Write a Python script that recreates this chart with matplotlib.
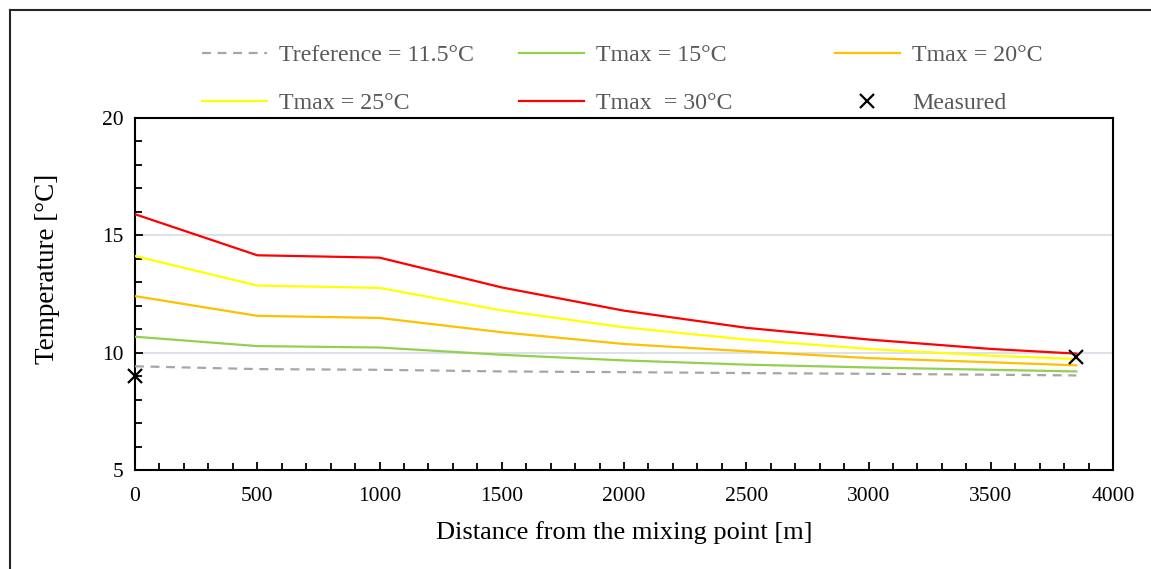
import matplotlib
matplotlib.use("Agg")
import matplotlib.pyplot as plt
from matplotlib.lines import Line2D

plt.rcParams["font.family"] = ["Liberation Serif", "DejaVu Serif"]

# distance from the mixing point [m]
distance = [0, 500, 1000, 1500, 2000, 2500, 3000, 3500, 3850]

t_reference = [9.42, 9.30, 9.27, 9.20, 9.17, 9.13, 9.10, 9.06, 9.03]
t_max_15 = [10.68, 10.28, 10.22, 9.91, 9.67, 9.49, 9.37, 9.27, 9.20]
t_max_20 = [12.41, 11.57, 11.48, 10.87, 10.37, 10.06, 9.77, 9.59, 9.46]
t_max_25 = [14.12, 12.86, 12.76, 11.80, 11.08, 10.56, 10.16, 9.87, 9.73]
t_max_30 = [15.90, 14.15, 14.05, 12.78, 11.79, 11.06, 10.56, 10.16, 9.96]

measured_distance = [0, 3850]
measured_temp = [9.0, 9.82]

series = [
    ("Treference = 11.5°C", t_reference, "#A6A6A6", "--"),
    ("Tmax = 15°C", t_max_15, "#92D050", "-"),
    ("Tmax = 20°C", t_max_20, "#FFC000", "-"),
    ("Tmax = 25°C", t_max_25, "#FFFF00", "-"),
    ("Tmax  = 30°C", t_max_30, "#FF0000", "-"),
]

fig = plt.figure(figsize=(11.51, 5.69), dpi=100)
ax = fig.add_axes([135 / 1151, 1 - 470 / 569, (1113 - 135) / 1151, (470 - 118) / 569])

handles = {}
for label, values, color, style in series:
    (h,) = ax.plot(distance, values, color=color, linestyle=style, linewidth=1.6,
                   dashes=(4, 3) if style == "--" else (None, None), zorder=3)
    handles[label] = h
(hm,) = ax.plot(measured_distance, measured_temp, linestyle="none", marker="x",
                markersize=10, markeredgewidth=1.6, color="black", clip_on=False, zorder=4)
handles["Measured"] = hm

ax.set_xlim(0, 4000)
ax.set_ylim(5, 20)
ax.set_xticks(range(0, 4001, 500))
ax.set_xticks(range(0, 4001, 100), minor=True)
ax.set_yticks([5, 10, 15, 20])
ax.set_yticks(range(5, 21), minor=True)
ax.tick_params(which="both", direction="in", labelsize=15.5, colors="black", width=1.3)
ax.tick_params(which="major", length=6)
ax.tick_params(which="minor", length=5)
ax.tick_params(axis="x", pad=12)
ax.tick_params(axis="y", pad=8)
for y in (10, 15):
    ax.axhline(y, color="#D6DCE5", linewidth=1.2, zorder=1)
for s in ax.spines.values():
    s.set_linewidth(1.5)

ax.set_xlabel("Distance from the mixing point [m]", fontsize=19, labelpad=11)
ax.set_ylabel("Temperature [°C]", fontsize=19.5)
ax.yaxis.set_label_coords(-0.077, 0.571)

# legend laid out as three separate columns
columns = [
    (["Treference = 11.5°C", "Tmax = 25°C"], 192),
    (["Tmax = 15°C", "Tmax  = 30°C"], 509),
    (["Tmax = 20°C", "Measured"], 825),
]
for labels, xpix in columns:
    leg = fig.legend([handles[l] for l in labels], labels, loc="upper left",
                     bbox_to_anchor=(xpix / 1151, 1 - 35 / 569), frameon=False,
                     fontsize=17.2, handlelength=2.75, handletextpad=0.5,
                     labelspacing=1.1, labelcolor="#595959", borderaxespad=0)

# outer frame of the figure (left and top edges visible)
fig.add_artist(Line2D([10 / 1151, 10 / 1151], [0, 1 - 10 / 569], color="#262626", linewidth=1.5))
fig.add_artist(Line2D([10 / 1151, 1], [1 - 10 / 569, 1 - 10 / 569], color="#262626", linewidth=1.5))

fig.savefig("out.png", dpi=100)
